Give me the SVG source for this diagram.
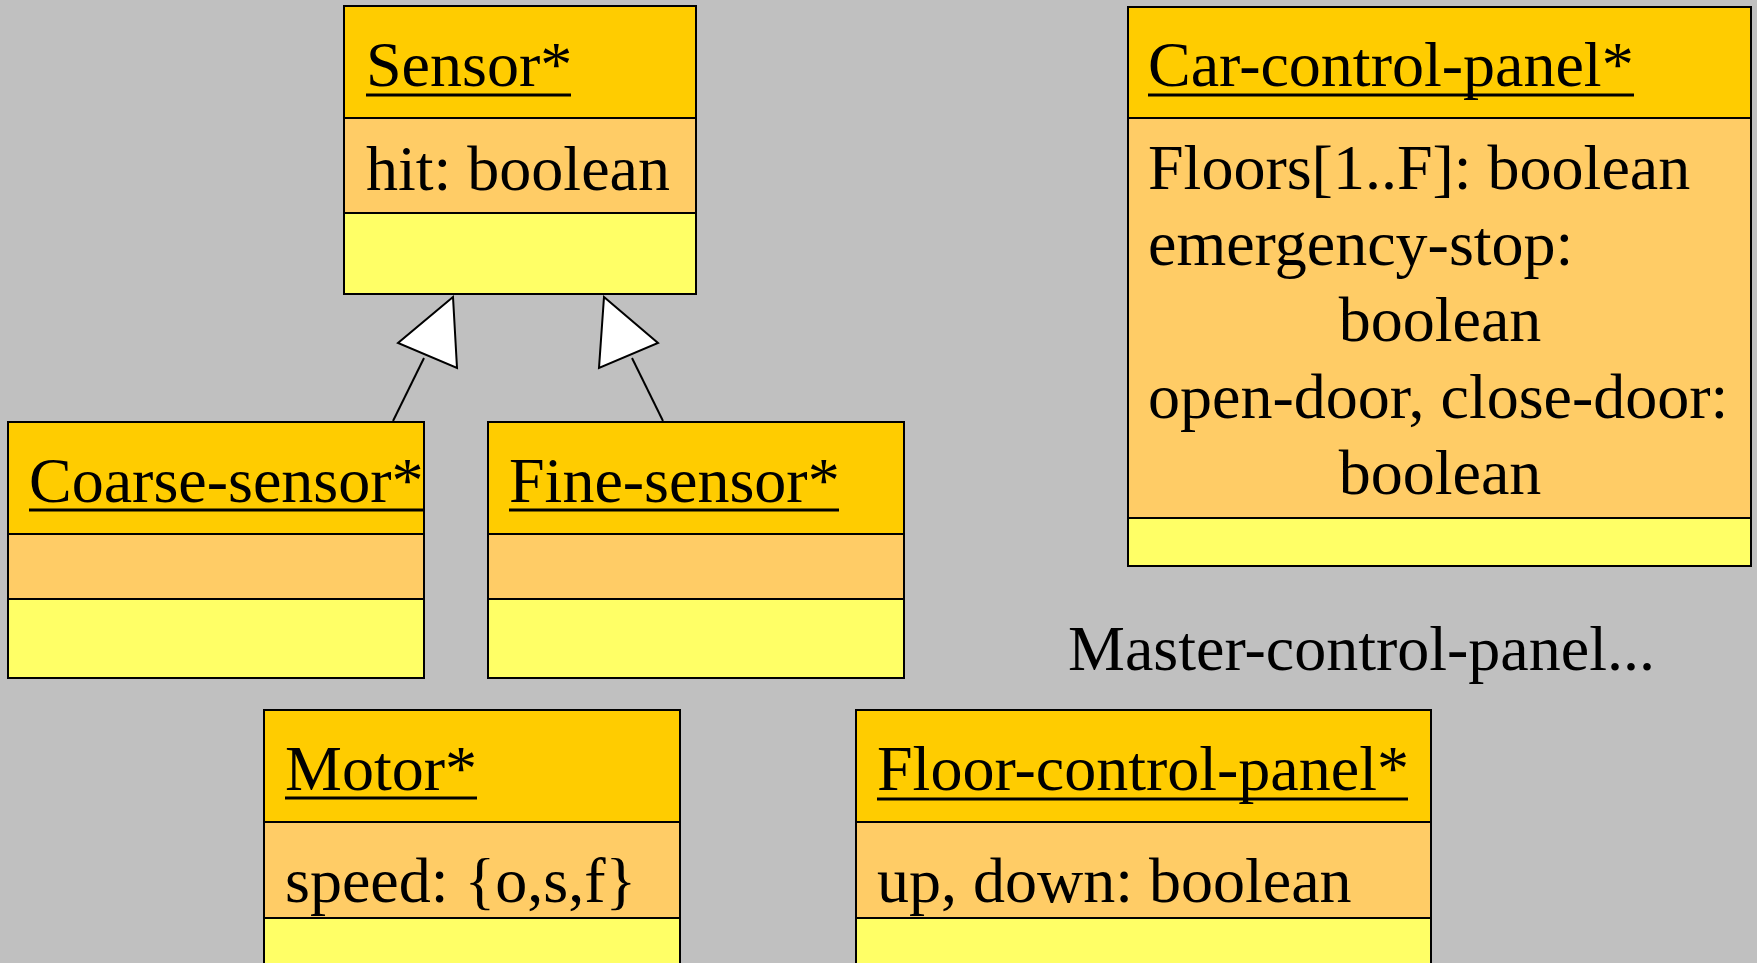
<svg xmlns="http://www.w3.org/2000/svg" width="1757" height="963" viewBox="0 0 1757 963">
  <style>
    .hdr { fill: #FFCC00; stroke: #000; stroke-width: 2; }
    .att { fill: #FFCC66; stroke: #000; stroke-width: 2; }
    .ops { fill: #FFFF66; stroke: #000; stroke-width: 2; }
    .t { font-family: "Liberation Serif", "Times New Roman", serif; font-size: 64px; fill: #000; }
    .ul { stroke: #000; stroke-width: 3; }
    .edge { stroke: #000; stroke-width: 2; fill: none; }
    .gen { fill: #fff; stroke: #000; stroke-width: 2; stroke-linejoin: miter; }
  </style>
  <defs>
    <clipPath id="clipCoarse"><rect x="8" y="422" width="416" height="256"/></clipPath>
  </defs>

  <rect x="0" y="0" width="1757" height="963" fill="#C0C0C0"/>

  <!-- generalisation links: subclasses to Sensor -->
  <g id="connectors">
    <line class="edge" x1="393" y1="421" x2="424" y2="358"/>
    <polygon class="gen" points="453,297 398,343 457,368"/>
    <line class="edge" x1="663" y1="421" x2="632" y2="358"/>
    <polygon class="gen" points="604,297 658,343 599,368"/>
  </g>

  <g id="sensor">
    <rect class="hdr" x="344" y="6" width="352" height="112"/>
    <rect class="att" x="344" y="118" width="352" height="95"/>
    <rect class="ops" x="344" y="213" width="352" height="81"/>
    <text class="t" x="366" y="86">Sensor*</text>
    <line class="ul" x1="366" y1="95" x2="571" y2="95"/>
    <text class="t" x="366" y="190">hit: boolean</text>
  </g>

  <g id="coarse-sensor">
    <rect class="hdr" x="8" y="422" width="416" height="112"/>
    <rect class="att" x="8" y="534" width="416" height="65"/>
    <rect class="ops" x="8" y="599" width="416" height="79"/>
    <g clip-path="url(#clipCoarse)">
      <text class="t" x="29" y="502">Coarse-sensor*</text>
      <line class="ul" x1="29" y1="510" x2="423" y2="510"/>
    </g>
  </g>

  <g id="fine-sensor">
    <rect class="hdr" x="488" y="422" width="416" height="112"/>
    <rect class="att" x="488" y="534" width="416" height="65"/>
    <rect class="ops" x="488" y="599" width="416" height="79"/>
    <text class="t" x="509" y="502">Fine-sensor*</text>
    <line class="ul" x1="509" y1="510" x2="839" y2="510"/>
  </g>

  <g id="car-control-panel">
    <rect class="hdr" x="1128" y="7" width="623" height="111"/>
    <rect class="att" x="1128" y="118" width="623" height="400"/>
    <rect class="ops" x="1128" y="518" width="623" height="48"/>
    <text class="t" x="1148" y="86">Car-control-panel*</text>
    <line class="ul" x1="1148" y1="95" x2="1634" y2="95"/>
    <text class="t" x="1148" y="189">Floors[1..F]: boolean</text>
    <text class="t" x="1148" y="265">emergency-stop:</text>
    <text class="t" x="1440" y="341" text-anchor="middle">boolean</text>
    <text class="t" x="1148" y="418">open-door, close-door:</text>
    <text class="t" x="1440" y="494" text-anchor="middle">boolean</text>
  </g>

  <g id="master-control-panel">
    <text class="t" x="1068" y="670">Master-control-panel...</text>
  </g>

  <g id="motor">
    <rect class="hdr" x="264" y="710" width="416" height="112"/>
    <rect class="att" x="264" y="822" width="416" height="96"/>
    <rect class="ops" x="264" y="918" width="416" height="60"/>
    <text class="t" x="285" y="790">Motor*</text>
    <line class="ul" x1="285" y1="798" x2="477" y2="798"/>
    <text class="t" x="285" y="902">speed: {o,s,f}</text>
  </g>

  <g id="floor-control-panel">
    <rect class="hdr" x="856" y="710" width="575" height="112"/>
    <rect class="att" x="856" y="822" width="575" height="96"/>
    <rect class="ops" x="856" y="918" width="575" height="60"/>
    <text class="t" x="877" y="790">Floor-control-panel*</text>
    <line class="ul" x1="877" y1="799" x2="1408" y2="799"/>
    <text class="t" x="877" y="902">up, down: boolean</text>
  </g>
</svg>
